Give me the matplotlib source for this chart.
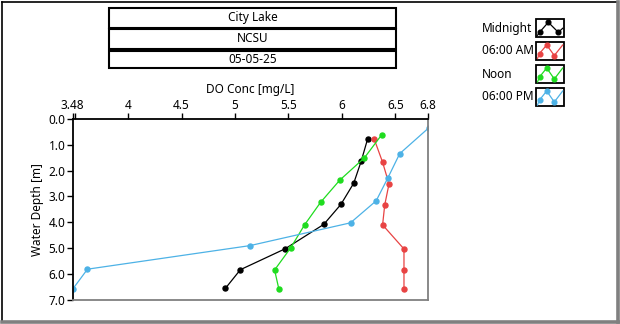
import matplotlib
matplotlib.use("Agg")
import matplotlib.pyplot as plt
from matplotlib.patches import Rectangle
from matplotlib.lines import Line2D

plt.rcParams['font.family'] = ['Noto Sans', 'DejaVu Sans']

# ---- data ----
title_lines = ["City Lake", "NCSU", "05-05-25"]
series_names = ["Midnight", "06:00 AM", "Noon", "06:00 PM"]
series_colors = ["#000000", "#E84343", "#1FDC1F", "#4DB2E6"]

midnight_do = [6.24, 6.18, 6.11, 5.99, 5.83, 5.47, 5.05, 4.91]
midnight_depth = [0.78, 1.64, 2.49, 3.31, 4.08, 5.02, 5.83, 6.55]
am_do = [6.30, 6.38, 6.44, 6.40, 6.38, 6.58, 6.58, 6.58]
am_depth = [0.77, 1.68, 2.52, 3.33, 4.10, 5.03, 5.84, 6.58]
noon_do = [6.37, 6.21, 5.98, 5.80, 5.65, 5.52, 5.37, 5.41]
noon_depth = [0.63, 1.51, 2.37, 3.23, 4.10, 4.99, 5.84, 6.58]
pm_do = [6.81, 6.54, 6.43, 6.32, 6.08, 5.14, 3.62, 3.48]
pm_depth = [0.36, 1.35, 2.28, 3.17, 4.02, 4.90, 5.81, 6.59]

x_ticks = [3.48, 4, 4.5, 5, 5.5, 6, 6.5, 6.8]
x_ticklabels = ["3.48", "4", "4.5", "5", "5.5", "6", "6.5", "6.8"]
y_ticks = [0, 1, 2, 3, 4, 5, 6, 7]
y_ticklabels = ["0.0", "1.0", "2.0", "3.0", "4.0", "5.0", "6.0", "7.0"]

W, H = 620, 324
fig = plt.figure(figsize=(W / 100, H / 100), dpi=100)
fig.patch.set_facecolor("white")

def fx(px):
    return px / W

def fy(py):
    return 1 - py / H

# outer frame
fig.add_artist(Line2D([fx(2), fx(2)], [fy(2), fy(321)], color="black", lw=1.2))
fig.add_artist(Line2D([fx(2), fx(617)], [fy(2), fy(2)], color="black", lw=1.2))
fig.add_artist(Line2D([fx(618), fx(618)], [fy(2), fy(322)], color="#808080", lw=2.6))
fig.add_artist(Line2D([fx(2), fx(619)], [fy(321.5), fy(321.5)], color="#808080", lw=2.6))

# title boxes
rows = [(8.5, 27.5), (29.5, 48.5), (50.5, 68.5)]
for (t, b), txt in zip(rows, title_lines):
    fig.add_artist(Rectangle((fx(109), fy(b)), fx(396) - fx(109), fy(t) - fy(b),
                             transform=fig.transFigure, fill=False, ec="black", lw=1.5))
    fig.text(fx(252.5), fy((t + b) / 2), txt, ha="center", va="center", fontsize=8.5)

# axes
ax = fig.add_axes([fx(72.5), fy(300), fx(427.5) - fx(72.5), fy(118.7) - fy(300)])
datasets = [(midnight_do, midnight_depth), (am_do, am_depth),
            (noon_do, noon_depth), (pm_do, pm_depth)]
for (xs, ys), c in zip(datasets, series_colors):
    ax.plot(xs, ys, color=c, lw=0.9, marker="o", markersize=3.6, mec=c, mfc=c)

ax.set_xlim(3.48, 6.8)
ax.set_ylim(7, 0)
ax.xaxis.tick_top()
ax.xaxis.set_label_position("top")
ax.set_xticks(x_ticks)
ax.set_xticklabels(x_ticklabels, fontsize=8.5)
ax.set_xticks([3.5], minor=True)
ax.set_yticks(y_ticks)
ax.set_yticklabels(y_ticklabels, fontsize=8.5)
ax.tick_params(axis="x", which="both", direction="out", length=4, width=1, pad=1, top=True, bottom=False)
ax.tick_params(axis="y", direction="out", length=4, width=1, pad=1)
ax.set_xlabel("DO Conc [mg/L]", fontsize=8.5, labelpad=4)
ax.set_ylabel("Water Depth [m]", fontsize=8.5, labelpad=3)
for s in ["left", "top"]:
    ax.spines[s].set_color("black")
    ax.spines[s].set_linewidth(1.3)
for s in ["right", "bottom"]:
    ax.spines[s].set_color("#808080")
    ax.spines[s].set_linewidth(1.3)

# legend
leg_boxes = [(19.3, 37.3), (42, 59.5), (65, 83), (88, 106)]
for (t, b), name, c in zip(leg_boxes, series_names, series_colors):
    cy = (t + b) / 2
    fig.text(fx(482), fy(cy), name, ha="left", va="center", fontsize=8.5)
    fig.add_artist(Rectangle((fx(536), fy(b)), fx(563.5) - fx(536), fy(t) - fy(b),
                             transform=fig.transFigure, fill=False, ec="black", lw=1.3))
    if name == "Midnight":
        lx = [537.5, 539.5, 548.3, 558.3, 562.7]
        ly = [b - 2, b - 5, t + 3, b - 5, cy]
    else:
        lx = [537.5, 539.5, 546.7, 554.3, 562.7]
        ly = [b - 1, b - 6, t + 3, b - 4, t + 3]
    mk = [1, 2, 3]
    fig.add_artist(Line2D([fx(v) for v in lx], [fy(v) for v in ly], color=c, lw=0.9))
    fig.add_artist(Line2D([fx(lx[i]) for i in mk], [fy(ly[i]) for i in mk], color=c, lw=0,
                          marker="o", markersize=3.4, mfc=c, mec=c))

fig.savefig("out.png", dpi=100)
